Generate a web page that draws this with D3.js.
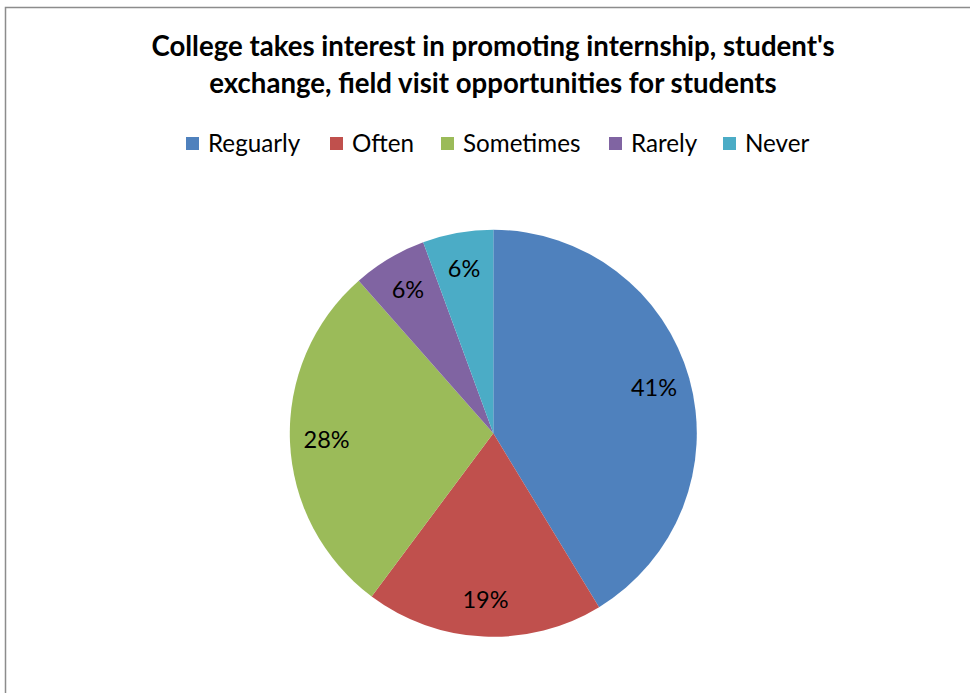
<!DOCTYPE html>
<html>
<head>
<meta charset="utf-8">
<script src="https://cdn.jsdelivr.net/npm/d3@7"></script>
<style>
  html, body { margin: 0; padding: 0; background: #fff; }
  svg { display: block; }
  text { font-family: Lato, "Open Sans", sans-serif; }
</style>
</head>
<body>
<svg id="chart" width="970" height="693"></svg>
<script>
const titleLines = ["College takes interest in promoting internship, student's", "exchange, field visit opportunities for students"];
const categories = ["Reguarly", "Often", "Sometimes", "Rarely", "Never"];
const values = [41.3, 18.9, 28.3, 5.9, 5.6];
const colors = ["#4F81BD", "#C0504D", "#9BBB59", "#8064A2", "#4BACC6"];

const svg = d3.select("#chart");
const W = 970, H = 693;
svg.append("rect").attr("x", 0).attr("y", 0).attr("width", W).attr("height", H).attr("fill", "#fff");

// frame
svg.append("path")
  .attr("d", `M5.5,${H} L5.5,7.5 L${W},7.5`)
  .attr("fill", "none").attr("stroke", "#8c8c8c").attr("stroke-width", 1.5);

// title
const title = svg.append("text").attr("text-anchor", "middle")
  .attr("font-weight", "bold").attr("font-size", 27.6).attr("fill", "#000");
titleLines.forEach((t, i) => {
  title.append("tspan").attr("x", 493).attr("y", 56 + i * 37).text(t);
});

// legend
const legendX = [186, 330, 441, 609, 723];
const lg = svg.append("g");
categories.forEach((c, i) => {
  lg.append("rect").attr("x", legendX[i]).attr("y", 137).attr("width", 13).attr("height", 13).attr("fill", colors[i]);
  lg.append("text").attr("x", legendX[i] + 22).attr("y", 152).attr("font-size", 24.2).attr("fill", "#000").text(c);
});

// pie
const cx = 493.3, cy = 433.3, R = 203.5;
const pie = d3.pie().sort(null).value(d => d);
const arc = d3.arc().innerRadius(0).outerRadius(R);
const labelArc = d3.arc().innerRadius(R * 0.82).outerRadius(R * 0.82);
const total = d3.sum(values);
const arcs = pie(values);
const g = svg.append("g").attr("transform", `translate(${cx},${cy})`);
g.selectAll("path.slice").data(arcs).enter().append("path")
  .attr("class", "slice").attr("d", arc).attr("fill", (d, i) => colors[i]);
g.selectAll("text.lbl").data(arcs).enter().append("text")
  .attr("class", "lbl")
  .attr("transform", d => `translate(${labelArc.centroid(d)})`)
  .attr("text-anchor", "middle").attr("dy", "0.35em")
  .attr("font-size", 23.5).attr("fill", "#000")
  .text(d => Math.round(d.value / total * 100) + "%");
</script>
</body>
</html>
